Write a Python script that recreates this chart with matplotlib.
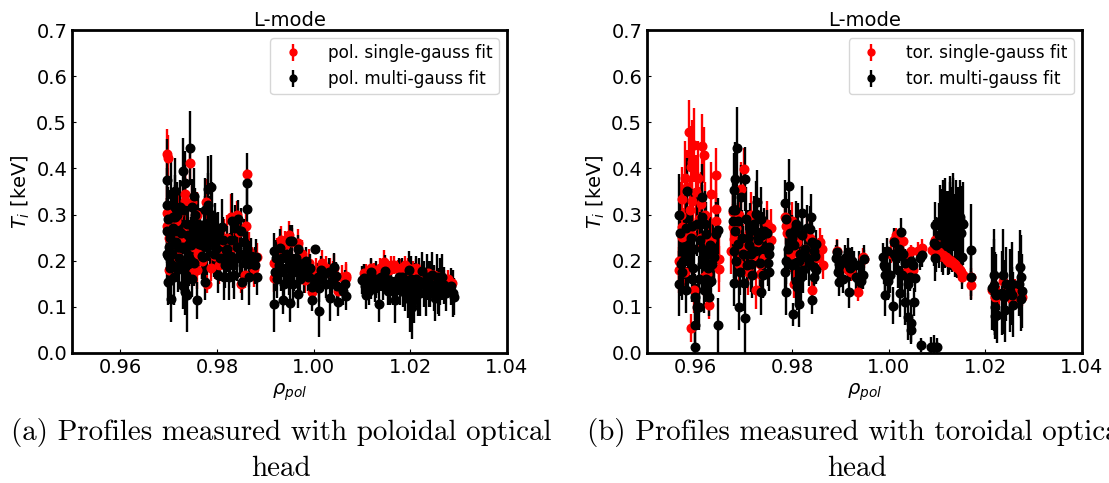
import matplotlib
matplotlib.use("Agg")
import matplotlib.pyplot as plt

# poloidal head, single-gauss fit
pol_single_x = [
    .9696, .9698, .9744, .9862, .9859, .9734, .9734, .9696, .9696, .9701,
    .9720, .9720, .9748, .9759, .9761, .9777, .9779, .9788, .9800, .9814,
    .9828, .9842, .9845, .9850, .9866, .9876, .9883, .9725, .9711, .9758,
    .9748, .9917, .9917, .9932, .9949, .9967, .9982, .9996, 1.0017, 1.0034,
    1.0050, 1.0043, 1.0066, 1.0066, 1.0104, 1.0119, 1.0145, 1.0147, 1.0167, 1.0188,
    1.0212, 1.0236, 1.0248, 1.0266, 1.0286, 1.0133, 1.0180, 1.0202, 1.0224, 1.0270,
    .9925, .9940, .9955, .9975, .9990, 1.0005, 1.0025, 1.0040, 1.0058, 1.0108,
    1.0125, 1.0138, 1.0155, 1.0160, 1.0175, 1.0195, 1.0205, 1.0218, 1.0242, 1.0258,
    1.0278, .9700, .9706, .9716, .9730, .9740, .9752, .9768, .9782, .9795,
    .9805, .9820, .9836, .9858, .9872]
pol_single_y = [
    .431, .422, .411, .388, .276, .345, .330, .303, .276, .179,
    .300, .208, .175, .179, .215, .327, .150, .185, .215, .240,
    .295, .300, .262, .150, .222, .183, .208, .250, .250, .300,
    .327, .162, .194, .245, .256, .239, .159, .133, .194, .176,
    .135, .184, .167, .162, .173, .184, .198, .187, .191, .191,
    .184, .173, .169, .162, .152, .169, .184, .176, .173, .160,
    .220, .235, .240, .215, .195, .180, .185, .175, .165, .172,
    .175, .185, .180, .190, .182, .185, .180, .175, .170, .165,
    .160, .250, .220, .285, .310, .270, .230, .200, .270, .210,
    .190, .250, .230, .170, .200]
pol_single_err = [
    .055, .05, .04, .01, .04, .06, .06, .06, .06, .04,
    .05, .05, .03, .04, .04, .05, .02, .03, .04, .05,
    .05, .03, .04, .02, .04, .04, .03, .05, .05, .05,
    .05, .03, .03, .03, .03, .03, .03, .02, .03, .03,
    .02, .03, .03, .03, .02, .02, .025, .02, .02, .02,
    .02, .02, .02, .02, .02, .02, .02, .02, .02, .02,
    .03, .03, .03, .03, .03, .025, .025, .025, .025, .02,
    .02, .02, .02, .02, .02, .02, .02, .02, .02, .02,
    .02, .05, .05, .05, .05, .05, .05, .04, .05, .05,
    .04, .05, .04, .03, .03]

# poloidal head, multi-gauss fit
pol_multi_x = [
    .9696, .9696, .9696, .9696, .9699, .9699, .9705, .9705, .9714, .9714,
    .9714, .9730, .9730, .9734, .9734, .9738, .9745, .9748, .9752, .9759,
    .9700, .9713, .9720, .9727, .9738, .9741, .9748, .9755, .9765, .9762,
    .9748, .9776, .9776, .9782, .9787, .9776, .9786, .9800, .9803, .9814,
    .9810, .9824, .9831, .9835, .9844, .9842, .9855, .9852, .9859, .9866,
    .9866, .9880, .9883, .9734, .9731, .9720, .9707, .9710, .9724, .9757,
    .9772, .9793, .9818, .9917, .9917, .9930, .9937, .9951, .9956, .9952,
    .9967, .9967, .9968, .9985, .9996, 1.0003, .9996, 1.0012, 1.0015, 1.0033,
    1.0043, 1.0050, 1.0046, 1.0065, 1.0067, 1.0104, 1.0108, 1.0119, 1.0119, 1.0136,
    1.0147, 1.0158, 1.0169, 1.0176, 1.0197, 1.0199, 1.0204, 1.0224, 1.0220, 1.0245,
    1.0259, 1.0266, 1.0269, 1.0289, 1.0290, 1.0130, 1.0185, 1.0210, 1.0238, 1.0252,
    .9698, .9702, .9703, .9708, .9711, .9716, .9718, .9722, .9725, .9728,
    .9731, .9733, .9736, .9739, .9742, .9746, .9750, .9753, .9756, .9760,
    .9768, .9773, .9779, .9781, .9784, .9789, .9791, .9795, .9798, .9802,
    .9806, .9812, .9816, .9820, .9826, .9829, .9833, .9838, .9841, .9847,
    .9850, .9857, .9862, .9870, .9878, .9919, .9922, .9925, .9928, .9932,
    .9935, .9939, .9942, .9945, .9948, .9953, .9957, .9960, .9964, .9971,
    .9975, .9979, .9988, .9992, 1.0000, 1.0008, 1.0012, 1.0020, 1.0026, 1.0031,
    1.0038, 1.0048, 1.0060, 1.0101, 1.0106, 1.0111, 1.0115, 1.0122, 1.0126, 1.0130,
    1.0140, 1.0143, 1.0150, 1.0153, 1.0161, 1.0165, 1.0172, 1.0179, 1.0183, 1.0188,
    1.0192, 1.0195, 1.0201, 1.0203, 1.0207, 1.0212, 1.0215, 1.0218, 1.0228, 1.0232,
    1.0235, 1.0241, 1.0248, 1.0255, 1.0257, 1.0262, 1.0273, 1.0285, .9862, .9862]
pol_multi_y = [
    .374, .320, .265, .214, .154, .210, .118, .345, .295, .352,
    .316, .146, .395, .368, .133, .125, .444, .317, .341, .114,
    .229, .265, .229, .229, .280, .193, .258, .298, .255, .237,
    .161, .154, .309, .356, .359, .280, .251, .244, .170, .165,
    .273, .165, .287, .168, .291, .230, .240, .154, .208, .193,
    .165, .208, .165, .186, .150, .183, .215, .295, .316, .273,
    .208, .215, .208, .221, .106, .228, .115, .243, .243, .108,
    .225, .127, .195, .200, .115, .225, .144, .090, .180, .120,
    .187, .111, .167, .149, .124, .162, .126, .175, .148, .107,
    .178, .144, .115, .165, .180, .115, .100, .178, .130, .169,
    .125, .165, .147, .129, .122, .160, .150, .145, .150, .120,
    .290, .250, .185, .270, .165, .240, .300, .205, .260, .190,
    .310, .225, .170, .255, .205, .235, .270, .195, .245, .280,
    .210, .265, .230, .320, .270, .300, .240, .265, .225, .255,
    .205, .245, .190, .225, .210, .245, .190, .270, .205, .215,
    .265, .195, .225, .210, .190, .175, .205, .160, .190, .175,
    .205, .150, .185, .215, .165, .195, .150, .175, .205, .160,
    .190, .170, .165, .185, .150, .165, .140, .170, .150, .175,
    .155, .145, .135, .158, .145, .150, .135, .160, .140, .155,
    .165, .145, .160, .135, .155, .135, .150, .145, .165, .130,
    .150, .125, .160, .135, .115, .160, .130, .155, .150, .130,
    .165, .150, .140, .165, .135, .155, .130, .145, .369, .312]
pol_multi_err = [
    .09, .08, .07, .07, .05, .07, .05, .08, .07, .07,
    .07, .05, .07, .07, .05, .08, .08, .06, .06, .04,
    .07, .07, .06, .06, .07, .06, .06, .06, .06, .05,
    .04, .04, .07, .07, .07, .06, .06, .05, .04, .05,
    .06, .05, .06, .05, .04, .05, .05, .04, .05, .05,
    .06, .04, .04, .05, .05, .05, .06, .06, .06, .06,
    .05, .05, .05, .04, .06, .04, .03, .035, .035, .04,
    .03, .03, .03, .03, .025, .01, .03, .055, .03, .05,
    .03, .03, .03, .03, .03, .03, .03, .03, .03, .04,
    .035, .04, .05, .04, .04, .07, .07, .04, .05, .05,
    .045, .05, .04, .05, .04, .04, .05, .05, .05, .05,
    .07, .06, .06, .07, .06, .06, .07, .06, .07, .06,
    .07, .06, .06, .06, .06, .06, .06, .05, .06, .06,
    .05, .06, .06, .07, .07, .07, .06, .06, .05, .05,
    .05, .05, .05, .05, .05, .05, .05, .05, .05, .05,
    .05, .04, .04, .04, .04, .04, .04, .04, .04, .04,
    .04, .04, .04, .04, .04, .04, .04, .04, .04, .04,
    .04, .04, .03, .03, .03, .03, .03, .03, .03, .03,
    .03, .03, .03, .03, .03, .03, .03, .03, .03, .03,
    .03, .03, .03, .03, .03, .03, .04, .04, .04, .04,
    .04, .05, .05, .05, .05, .05, .05, .05, .05, .05,
    .05, .05, .05, .05, .05, .05, .04, .04, .065, .07]

# toroidal head, single-gauss fit
tor_single_x = [
    .9587, .9597, .9613, .9618, .9643, .9579, .9590, .9593, .9572, .9593,
    .9611, .9633, .9642, .9642, .9573, .9573, .9590, .9632, .9639, .9649,
    .9649, .9567, .9567, .9578, .9618, .9625, .9592, .9628, .9597, .9608,
    .9700, .9694, .9677, .9677, .9680, .9673, .9694, .9690, .9708, .9733,
    .9733, .9725, .9756, .9756, .9749, .9735, .9715, .9786, .9787, .9801,
    .9804, .9804, .9832, .9842, .9846, .9865, .9863, .9894, .9915, .9949,
    .9922, .9936, .9947, 1.0012, 1.0016, 1.0030, 1.0047, 1.0050, 1.0036, 1.0068,
    1.0089, 1.0095, 1.0109, 1.0115, 1.0120, 1.0125, 1.0130, 1.0135, 1.0140, 1.0147,
    1.0151, 1.0170, 1.0170, 1.0213, 1.0220, 1.0237, 1.0255, 1.0272, 1.0275, 1.0244,
    .9570, .9576, .9583, .9589, .9596, .9602, .9606, .9612, .9620, .9628,
    .9684, .9690, .9698, .9705, .9712, .9720, .9728, .9742, .9790, .9797,
    .9810, .9818, .9826, .9838, .9852, .9858, 1.0005, 1.0022, 1.0040, 1.0060,
    1.0105, 1.0112, 1.0118, 1.0122, 1.0128, 1.0133, 1.0138, 1.0143, 1.0149, 1.0153,
    1.0228, 1.0249, 1.0262, 1.0268]
tor_single_y = [
    .478, .451, .448, .429, .385, .380, .403, .415, .333, .330,
    .323, .345, .312, .286, .272, .251, .258, .244, .208, .204,
    .182, .200, .179, .175, .164, .171, .054, .103, .136, .290,
    .399, .355, .305, .272, .247, .222, .215, .193, .175, .193,
    .172, .136, .271, .244, .280, .251, .300, .294, .276, .287,
    .222, .150, .258, .136, .214, .190, .226, .222, .180, .204,
    .175, .132, .207, .245, .256, .242, .220, .180, .176, .227,
    .223, .245, .212, .207, .202, .198, .198, .192, .187, .180,
    .165, .147, .165, .137, .122, .155, .115, .137, .122, .137,
    .300, .255, .360, .310, .275, .350, .380, .250, .300, .240,
    .270, .300, .230, .250, .260, .210, .240, .205, .260, .215,
    .240, .200, .225, .250, .205, .240, .215, .225, .205, .220,
    .218, .212, .208, .204, .200, .196, .192, .185, .176, .170,
    .125, .130, .140, .125]
tor_single_err = [
    .07, .08, .07, .06, .06, .08, .09, .09, .07, .07,
    .07, .07, .07, .06, .06, .06, .06, .05, .05, .05,
    .05, .05, .05, .05, .04, .05, .03, .03, .05, .07,
    .045, .06, .05, .05, .05, .05, .05, .05, .05, .05,
    .05, .04, .04, .04, .05, .05, .05, .04, .04, .04,
    .04, .03, .04, .03, .03, .03, .03, .025, .025, .02,
    .02, .02, .02, .015, .015, .015, .015, .015, .015, .02,
    .015, .015, .015, .015, .015, .015, .015, .015, .015, .015,
    .015, .03, .02, .02, .02, .02, .02, .02, .02, .02,
    .07, .06, .08, .07, .07, .08, .08, .06, .07, .06,
    .05, .05, .05, .05, .05, .05, .05, .04, .04, .04,
    .04, .04, .04, .04, .03, .03, .02, .02, .02, .02,
    .015, .015, .015, .015, .015, .015, .015, .015, .015, .015,
    .02, .02, .02, .02]

# toroidal head, multi-gauss fit
tor_multi_x = [
    .9566, .9566, .9570, .9575, .9583, .9580, .9587, .9594, .9600, .9600,
    .9600, .9594, .9604, .9614, .9614, .9614, .9607, .9618, .9623, .9624,
    .9623, .9628, .9635, .9639, .9642, .9646, .9647, .9687, .9683, .9680,
    .9683, .9677, .9679, .9680, .9688, .9690, .9694, .9702, .9702, .9700,
    .9708, .9715, .9715, .9728, .9725, .9735, .9728, .9735, .9742, .9752,
    .9752, .9752, .9793, .9786, .9787, .9787, .9786, .9803, .9801, .9808,
    .9821, .9815, .9811, .9815, .9818, .9839, .9829, .9838, .9846, .9842,
    .9849, .9849, .9846, .9894, .9897, .9897, .9915, .9915, .9918, .9929,
    .9946, .9949, .9939, .9988, .9992, .9992, .9999, .9992, 1.0009, 1.0012,
    1.0026, 1.0030, 1.0019, 1.0023, 1.0033, 1.0040, 1.0047, 1.0047, 1.0053, 1.0044,
    1.0054, 1.0047, 1.0068, 1.0066, 1.0093, 1.0088, 1.0099, 1.0095, 1.0093, 1.0095,
    1.0113, 1.0113, 1.0116, 1.0114, 1.0120, 1.0127, 1.0131, 1.0124, 1.0134, 1.0141,
    1.0145, 1.0151, 1.0151, 1.0170, 1.0170, 1.0217, 1.0217, 1.0220, 1.0220, 1.0220,
    1.0225, 1.0237, 1.0239, 1.0240, 1.0255, 1.0256, 1.0272, 1.0273, 1.0274,
    .9568, .9572, .9577, .9581, .9585, .9590, .9596, .9598, .9603, .9608,
    .9610, .9617, .9620, .9626, .9630, .9633, .9637, .9678, .9682, .9685,
    .9688, .9692, .9696, .9699, .9704, .9707, .9710, .9713, .9718, .9721,
    .9724, .9730, .9733, .9738, .9740, .9745, .9748, .9750, .9788, .9791,
    .9796, .9800, .9805, .9808, .9812, .9817, .9820, .9823, .9826, .9831,
    .9835, .9842, .9845, .9848, .9892, .9896, .9900, .9905, .9910, .9920,
    .9925, .9932, .9938, .9943, .9990, .9997, 1.0003, 1.0010, 1.0016, 1.0022,
    1.0028, 1.0034, 1.0041, 1.0050, 1.0065, 1.0098, 1.0104, 1.0107, 1.0110, 1.0117,
    1.0122, 1.0126, 1.0129, 1.0133, 1.0137, 1.0139, 1.0143, 1.0147, 1.0149, 1.0153,
    1.0214, 1.0222, 1.0234, 1.0242, 1.0252, 1.0258, 1.0270, 1.0276]
tor_multi_y = [
    .298, .150, .193, .200, .352, .136, .231, .161, .060, .012,
    .121, .276, .100, .339, .294, .193, .100, .136, .258, .215,
    .161, .121, .193, .208, .258, .266, .060, .444, .377, .354,
    .309, .287, .222, .152, .236, .100, .338, .377, .076, .152,
    .250, .215, .193, .327, .302, .290, .263, .132, .265, .229,
    .215, .175, .361, .325, .200, .132, .175, .084, .250, .280,
    .303, .107, .143, .200, .165, .294, .208, .269, .187, .114,
    .237, .179, .222, .219, .193, .154, .219, .193, .132, .190,
    .168, .204, .157, .209, .187, .169, .155, .126, .102, .215,
    .263, .215, .180, .129, .111, .079, .064, .050, .111, .165,
    .162, .200, .212, .017, .014, .014, .013, .277, .238, .205,
    .295, .258, .265, .275, .272, .303, .266, .262, .310, .252,
    .270, .281, .209, .223, .165, .169, .147, .129, .100, .080,
    .082, .169, .122, .093, .150, .126, .186, .165, .118,
    .260, .175, .230, .270, .200, .250, .185, .225, .280, .160,
    .245, .205, .280, .185, .235, .155, .220, .310, .265, .200,
    .285, .175, .250, .215, .290, .190, .235, .265, .170, .280,
    .220, .245, .195, .255, .170, .225, .260, .195, .290, .225,
    .260, .190, .235, .155, .275, .215, .255, .180, .225, .270,
    .195, .240, .165, .210, .205, .175, .195, .160, .205, .185,
    .200, .165, .190, .155, .190, .220, .170, .240, .205, .225,
    .170, .195, .150, .190, .205, .235, .255, .285, .265, .290,
    .250, .280, .270, .300, .255, .285, .270, .295, .260, .280,
    .140, .125, .130, .150, .135, .105, .150, .135]
tor_multi_err = [
    .09, .07, .07, .07, .07, .05, .07, .05, .05, .04,
    .05, .08, .05, .07, .07, .06, .05, .05, .07, .06,
    .05, .04, .05, .06, .07, .07, .06, .09, .08, .08,
    .07, .07, .06, .05, .06, .05, .07, .07, .076, .06,
    .06, .06, .06, .07, .07, .07, .06, .05, .05, .05,
    .04, .04, .06, .05, .05, .05, .05, .025, .05, .05,
    .06, .05, .05, .05, .05, .05, .05, .05, .04, .03,
    .03, .03, .03, .025, .03, .03, .03, .03, .035, .03,
    .03, .03, .03, .03, .04, .04, .04, .045, .04, .05,
    .03, .03, .04, .05, .05, .05, .04, .03, .03, .03,
    .03, .03, .025, .015, .025, .02, .02, .05, .05, .05,
    .08, .09, .08, .09, .08, .08, .09, .09, .08, .09,
    .09, .08, .07, .1, .05, .1, .1, .09, .06, .05,
    .06, .1, .08, .07, .09, .06, .08, .09, .07,
    .07, .06, .07, .07, .06, .07, .06, .06, .07, .05,
    .06, .06, .07, .06, .06, .05, .06, .07, .06, .06,
    .07, .05, .06, .06, .07, .05, .06, .06, .05, .06,
    .05, .06, .05, .05, .05, .05, .05, .05, .06, .05,
    .05, .05, .05, .05, .05, .05, .05, .05, .05, .05,
    .05, .05, .04, .04, .03, .03, .03, .03, .03, .03,
    .03, .03, .03, .03, .04, .03, .04, .03, .03, .03,
    .04, .03, .03, .03, .025, .06, .07, .08, .09, .09,
    .08, .09, .09, .08, .09, .09, .09, .08, .09, .09,
    .09, .09, .09, .08, .09, .07, .07, .08]

title = "L-mode"
y_ticks = [0.0, 0.1, 0.2, 0.3, 0.4, 0.5, 0.6, 0.7]
x_ticks = [0.96, 0.98, 1.00, 1.02, 1.04]

fig_w = 1109
fig_h = 483
fig = plt.figure(figsize=(fig_w / 100, fig_h / 100), dpi=100)


def draw_panel(left_px, x1, y1, e1, x2, y2, e2, label1, label2):
    ax = fig.add_axes([left_px / fig_w, (fig_h - 353) / fig_h, 435 / fig_w, 323 / fig_h])
    ax.errorbar(x1, y1, yerr=e1, fmt="o", color="red", ms=6.2, elinewidth=1.7, label=label1)
    ax.errorbar(x2, y2, yerr=e2, fmt="o", color="black", ms=6.2, elinewidth=1.7, label=label2)
    ax.set_xlim(0.95, 1.04)
    ax.set_ylim(0.0, 0.7)
    ax.set_xticks(x_ticks)
    ax.set_yticks(y_ticks)
    ax.tick_params(direction="in", labelsize=14, length=3, width=0.8)
    for s in ax.spines.values():
        s.set_linewidth(2)
    ax.set_title(title, fontsize=14, pad=3)
    ax.set_xlabel(r"$\rho_{pol}$", fontsize=14, labelpad=3)
    ax.set_ylabel(r"$T_i$ [keV]", fontsize=14, labelpad=3)
    ax.legend(loc="upper right", fontsize=12.2, handlelength=2.0, markerscale=0.8,
              handletextpad=1.05, borderaxespad=0.5, labelspacing=0.45, borderpad=0.35)
    return ax


draw_panel(72, pol_single_x, pol_single_y, pol_single_err,
           pol_multi_x, pol_multi_y, pol_multi_err,
           "pol. single-gauss fit", "pol. multi-gauss fit")
draw_panel(647, tor_single_x, tor_single_y, tor_single_err,
           tor_multi_x, tor_multi_y, tor_multi_err,
           "tor. single-gauss fit", "tor. multi-gauss fit")

# captions sit under the panels, the right one runs off the page
fig.text(281 / fig_w, 1 - 432 / fig_h, "(a) Profiles measured with poloidal optical",
         family="cmr10", fontsize=20.9, ha="center", va="center")
fig.text(281 / fig_w, 1 - 469 / fig_h, "head",
         family="cmr10", fontsize=20.9, ha="center", va="center")
fig.text(857 / fig_w, 1 - 432 / fig_h, "(b) Profiles measured with toroidal optical",
         family="cmr10", fontsize=20.9, ha="center", va="center")
fig.text(857 / fig_w, 1 - 469 / fig_h, "head",
         family="cmr10", fontsize=20.9, ha="center", va="center")

fig.savefig("out.png", dpi=100)
